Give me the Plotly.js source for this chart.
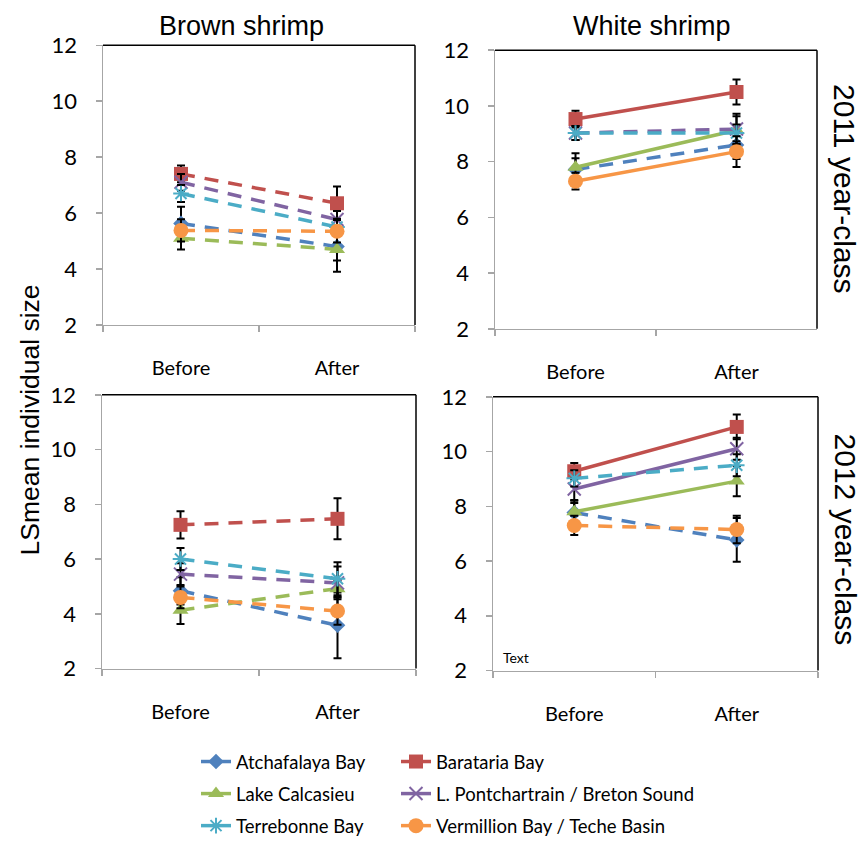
<!DOCTYPE html>
<html>
<head>
<meta charset="utf-8">
<script src="https://cdn.plot.ly/plotly-3.0.1.min.js"></script>
<style>html,body{margin:0;padding:0;background:#fff;}#chart{width:863px;height:845px;}</style>
</head>
<body>
<div id="chart"></div>
<script>
// ---------- data ----------
const categories = ['Before', 'After'];
const sites = ['Atchafalaya Bay', 'Barataria Bay', 'Lake Calcasieu',
  'L. Pontchartrain / Breton Sound', 'Terrebonne Bay', 'Vermillion Bay / Teche Basin'];
const yTicks = [2, 4, 6, 8, 10, 12];

// [Before, After] per site, same order as `sites`
const brown2011 = [[5.63, 4.80], [7.40, 6.35], [5.10, 4.70], [7.10, 5.77], [6.70, 5.50], [5.38, 5.35]];
const brown2011Err = [[0.6, 0.5], [0.3, 0.6], [0.4, 0.8], [0.3, 0.3], [0.3, 0.3], [0.4, 0.4]];
const white2011 = [[7.72, 8.60], [9.53, 10.50], [7.80, 9.13], [9.03, 9.17], [9.03, 9.03], [7.30, 8.36]];
const white2011Err = [[0.4, 0.5], [0.3, 0.45], [0.5, 0.5], [0.25, 0.55], [0.25, 0.3], [0.3, 0.55]];
const brown2012 = [[4.84, 3.58], [7.25, 7.47], [4.13, 4.92], [5.45, 5.13], [6.00, 5.28], [4.60, 4.10]];
const brown2012Err = [[0.5, 1.2], [0.5, 0.75], [0.5, 0.3], [0.4, 0.6], [0.4, 0.6], [0.4, 0.5]];
const white2012 = [[7.77, 6.77], [9.28, 10.90], [7.80, 8.92], [8.63, 10.10], [9.02, 9.50], [7.30, 7.15]];
const white2012Err = [[0.35, 0.8], [0.3, 0.45], [0.4, 0.55], [0.4, 0.4], [0.3, 0.4], [0.35, 0.5]];
// significant change (drawn solid) per site
const sigBrown2011 = [false, false, false, false, false, false];
const sigWhite2011 = [false, true, true, false, false, true];
const sigBrown2012 = [false, false, false, false, false, false];
const sigWhite2012 = [false, true, true, true, false, false];

// ---------- styles ----------
const colors = ['#4F81BD', '#C0504D', '#9BBB59', '#8064A2', '#4BACC6', '#F79646'];
const symbols = ['diamond', 'square', 'triangle-up', 'x-thin-open', 'asterisk-open', 'circle'];
const msize = [12, 14, 14, 13, 13, 15];
const W = 863, H = 845;
const DASH = '14px,10px';

const panels = [
  {vals: brown2011, err: brown2011Err, sig: sigBrown2011, xa: 'x', ya: 'y'},
  {vals: white2011, err: white2011Err, sig: sigWhite2011, xa: 'x2', ya: 'y2'},
  {vals: brown2012, err: brown2012Err, sig: sigBrown2012, xa: 'x3', ya: 'y3'},
  {vals: white2012, err: white2012Err, sig: sigWhite2012, xa: 'x4', ya: 'y4'}
];

function mk(i) {
  const m = {symbol: symbols[i], size: msize[i], color: colors[i]};
  if (symbols[i].indexOf('open') >= 0) m.line = {color: colors[i], width: 2};
  else m.line = {width: 0};
  return m;
}

const traces = [];
panels.forEach(p => {
  sites.forEach((s, i) => {
    traces.push({
      type: 'scatter', mode: 'lines+markers', name: s,
      x: categories, y: p.vals[i], xaxis: p.xa, yaxis: p.ya,
      line: {color: colors[i], width: 3.5, dash: p.sig[i] ? 'solid' : DASH},
      marker: mk(i),
      error_y: {type: 'data', array: p.err[i], visible: true, color: '#000', thickness: 2, width: 4},
      showlegend: false, hoverinfo: 'skip', cliponaxis: false
    });
  });
});
// legend entries (solid line + marker), two columns
const col1 = [0, 2, 4], col2 = [1, 3, 5];
[[col1, 'legend'], [col2, 'legend2']].forEach(([idx, lg]) => {
  idx.forEach(i => {
    traces.push({
      type: 'scatter', mode: 'lines+markers', name: sites[i],
      x: [null], y: [null], xaxis: 'x', yaxis: 'y',
      line: {color: colors[i], width: 3.5}, marker: mk(i),
      showlegend: true, legend: lg, legendgroup: 'g' + i
    });
  });
});

// ---------- layout ----------
const px = v => v / W, py = v => 1 - v / H;
const boxes = [
  {l: 103, r: 415, t: 46, b: 330},
  {l: 495, r: 817, t: 51, b: 334},
  {l: 102, r: 416, t: 401, b: 679},
  {l: 493, r: 818, t: 403, b: 681}
];
const AXC = '#A6A6A6';
function xax(b) {
  return {domain: [px(b.l), px(b.r)], type: 'category', categoryorder: 'array', categoryarray: categories,
    range: [-0.5, 1.5], tickson: 'boundaries', ticks: 'outside', ticklen: 6, tickwidth: 1.5, tickcolor: AXC,
    showline: true, linecolor: AXC, linewidth: 1.5, showgrid: false, zeroline: false,
    tickfont: {family: 'Lato', size: 20, color: '#000'}, ticklabelstandoff: 25, fixedrange: true};
}
function yax(b) {
  return {domain: [py(b.b), py(b.t)], range: [2, 12], tickvals: yTicks, ticktext: yTicks.map(String),
    ticks: 'outside', ticklen: 6, tickwidth: 1.5, tickcolor: AXC,
    showline: true, linecolor: AXC, linewidth: 1.5, showgrid: false, zeroline: false,
    tickfont: {family: 'Lato', size: 22, color: '#000'}, ticklabelstandoff: 14, fixedrange: true};
}
function ann(text, x, y, size, angle, family, xanchor) {
  return {text, x: px(x), y: py(y), xref: 'paper', yref: 'paper', showarrow: false,
    xanchor: xanchor || 'center', yanchor: 'middle', textangle: angle || 0,
    font: {family: family || 'Liberation Sans', size, color: '#000'}};
}
const layout = {
  width: W, height: H, margin: {l: 0, r: 0, t: 0, b: 0},
  paper_bgcolor: '#fff', plot_bgcolor: '#fff',
  font: {family: 'Lato', color: '#000'},
  xaxis: Object.assign(xax(boxes[0]), {anchor: 'y'}),
  yaxis: Object.assign(yax(boxes[0]), {anchor: 'x'}),
  xaxis2: Object.assign(xax(boxes[1]), {anchor: 'y2'}),
  yaxis2: Object.assign(yax(boxes[1]), {anchor: 'x2'}),
  xaxis3: Object.assign(xax(boxes[2]), {anchor: 'y3'}),
  yaxis3: Object.assign(yax(boxes[2]), {anchor: 'x3'}),
  xaxis4: Object.assign(xax(boxes[3]), {anchor: 'y4'}),
  yaxis4: Object.assign(yax(boxes[3]), {anchor: 'x4'}),
  shapes: [],
  annotations: [
    ann('Brown shrimp', 241, 26, 27),
    ann('White shrimp', 652, 26, 27),
    ann('2011 year-class', 845, 192, 30, 90),
    ann('2012 year-class', 845, 548, 30, 90),
    ann('LSmean individual size', 30, 427, 26.5, -90),
    ann('Text', 501, 668, 14, 0, 'Lato', 'left')
  ],
  legend: {x: px(196), y: py(755), xanchor: 'left', yanchor: 'top', orientation: 'v',
    font: {family: 'Lato', size: 18.5, color: '#000'}, bgcolor: 'rgba(0,0,0,0)', itemwidth: 30, tracegroupgap: 5},
  legend2: {x: px(396), y: py(755), xanchor: 'left', yanchor: 'top', orientation: 'v',
    font: {family: 'Lato', size: 18.5, color: '#000'}, bgcolor: 'rgba(0,0,0,0)', itemwidth: 30, tracegroupgap: 5}
};
['', '2', '3', '4'].forEach(k => {
  layout.shapes.push({type: 'line', xref: 'x' + k + ' domain', yref: 'y' + k + ' domain', x0: 0, x1: 1, y0: 1, y1: 1,
    line: {color: '#000', width: 1.5}});
  layout.shapes.push({type: 'line', xref: 'x' + k + ' domain', yref: 'y' + k + ' domain', x0: 1, x1: 1, y0: 0, y1: 1,
    line: {color: '#000', width: 1.5}});
});

Plotly.newPlot('chart', traces, layout, {staticPlot: true, displayModeBar: false});
</script>
</body>
</html>
